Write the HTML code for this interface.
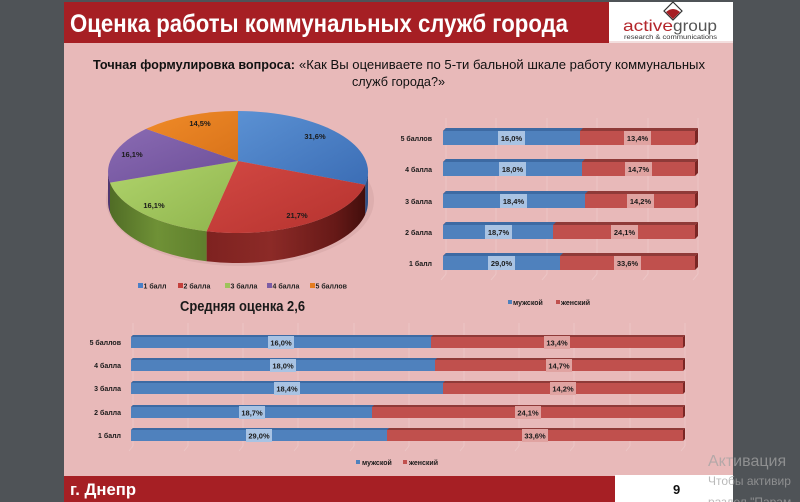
<!DOCTYPE html>
<html><head><meta charset="utf-8"><style>
html,body{margin:0;padding:0;background:#4f5357;}
svg{display:block;}
text{font-family:"Liberation Sans",Arial,sans-serif;}
</style></head><body>
<svg width="800" height="502" viewBox="0 0 800 502" xmlns="http://www.w3.org/2000/svg">
<defs>
<linearGradient id="gBlue" x1="0" y1="0" x2="1" y2="1"><stop offset="0" stop-color="#5b91d3"/><stop offset="1" stop-color="#3b6db5"/></linearGradient>
<linearGradient id="gRed" x1="0" y1="0" x2="1" y2="1"><stop offset="0" stop-color="#d24843"/><stop offset="1" stop-color="#b5322e"/></linearGradient>
<linearGradient id="gGreen" x1="0" y1="0" x2="1" y2="1"><stop offset="0" stop-color="#b0d46c"/><stop offset="1" stop-color="#8fb44d"/></linearGradient>
<linearGradient id="gPurple" x1="0" y1="0" x2="1" y2="1"><stop offset="0" stop-color="#8a6bb3"/><stop offset="1" stop-color="#6c4e98"/></linearGradient>
<linearGradient id="gOrange" x1="0" y1="0" x2="1" y2="1"><stop offset="0" stop-color="#f08b28"/><stop offset="1" stop-color="#d9731a"/></linearGradient>
<linearGradient id="sRed" gradientUnits="userSpaceOnUse" x1="206" y1="0" x2="368" y2="0"><stop offset="0" stop-color="#7e2220"/><stop offset="0.4" stop-color="#8c2a27"/><stop offset="0.8" stop-color="#661917"/><stop offset="1" stop-color="#3f0d0b"/></linearGradient>
<linearGradient id="sGreen" gradientUnits="userSpaceOnUse" x1="108" y1="0" x2="207" y2="0"><stop offset="0" stop-color="#4f6b25"/><stop offset="0.5" stop-color="#6f9136"/><stop offset="1" stop-color="#5f7f2d"/></linearGradient>
</defs>

<rect x="64" y="2" width="669" height="500" fill="#e8b9b9"/>

<rect x="64" y="2" width="545" height="41" fill="#a61f24"/>
<text x="70" y="32" font-size="25" font-weight="bold" fill="#ffffff" textLength="498" lengthAdjust="spacingAndGlyphs">Оценка работы коммунальных служб города</text>

<rect x="609" y="2" width="124" height="39" fill="#ffffff"/>
<rect x="609" y="41" width="124" height="2" fill="#f3dede"/>
<polygon points="673,2 682,11 673,20 664,11" fill="#ffffff" stroke="#333" stroke-width="1.2"/>
<path d="M666,12 Q673,6 680,12 L673,19 Z" fill="#a61f24"/>
<text x="623" y="31" font-size="16" fill="#b3262b" textLength="50" lengthAdjust="spacingAndGlyphs">active</text>
<text x="673" y="31" font-size="16" fill="#555555" textLength="44" lengthAdjust="spacingAndGlyphs">group</text>
<text x="624" y="39" font-size="6" fill="#333" textLength="93" lengthAdjust="spacingAndGlyphs">research &amp; communications</text>

<text x="93" y="69" font-size="12.5" fill="#111" font-weight="bold" textLength="202" lengthAdjust="spacingAndGlyphs">Точная формулировка вопроса:</text>
<text x="299" y="69" font-size="12.5" fill="#111" textLength="406" lengthAdjust="spacingAndGlyphs">«Как Вы оцениваете по 5-ти бальной шкале работу коммунальных</text>
<text x="352" y="86" font-size="12.5" fill="#111" textLength="93" lengthAdjust="spacingAndGlyphs">служб города?»</text>

<ellipse cx="240" cy="200" rx="134" ry="66" fill="#c99a9a" opacity="0.35"/>
<path d="M368,172 A130,61 0 0,1 365.2,184.7 L365.2,214.7 A130,61 0 0,0 368,202 Z" fill="#2d4f86"/>
<path d="M365.2,184.7 A130,61 0 0,1 206.6,231.2 L206.6,261.2 A130,61 0 0,0 365.2,214.7 Z" fill="url(#sRed)"/>
<path d="M206.6,231.2 A130,61 0 0,1 110,182.6 L110,212.6 A130,61 0 0,0 206.6,261.2 Z" fill="url(#sGreen)"/>
<path d="M110,182.6 A130,61 0 0,1 108,172 L108,202 A130,61 0 0,0 110,212.6 Z" fill="#4f3670"/>
<path d="M238,161 L238,111 A130,61 0 0,1 365.2,184.7 Z" fill="url(#gBlue)"/>
<path d="M238,161 L365.2,184.7 A130,61 0 0,1 206.6,231.2 Z" fill="url(#gRed)"/>
<path d="M238,161 L206.6,231.2 A130,61 0 0,1 110,182.6 Z" fill="url(#gGreen)"/>
<path d="M238,161 L110,182.6 A130,61 0 0,1 146.1,128.9 Z" fill="url(#gPurple)"/>
<path d="M238,161 L146.1,128.9 A130,61 0 0,1 238,111 Z" fill="url(#gOrange)"/>
<g font-size="7.5" font-weight="bold" fill="#1a1a1a" text-anchor="middle">
<text x="315" y="139">31,6%</text>
<text x="297" y="218">21,7%</text>
<text x="154" y="208">16,1%</text>
<text x="132" y="157">16,1%</text>
<text x="200" y="126">14,5%</text>
</g>
<g font-size="7" font-weight="bold" fill="#222">
<rect x="138" y="283" width="5" height="5" fill="#4a7fc6"/><text x="143.5" y="288.5">1 балл</text>
<rect x="178" y="283" width="5" height="5" fill="#c4403c"/><text x="183.5" y="288.5">2 балла</text>
<rect x="225" y="283" width="5" height="5" fill="#9dc35a"/><text x="230.5" y="288.5">3 балла</text>
<rect x="267" y="283" width="5" height="5" fill="#7b5ca5"/><text x="272.5" y="288.5">4 балла</text>
<rect x="310" y="283" width="5" height="5" fill="#e47b1f"/><text x="315.5" y="288.5">5 баллов</text>
</g>
<text x="180" y="311" font-size="14.5" font-weight="bold" fill="#1a1a1a" textLength="125" lengthAdjust="spacingAndGlyphs">Средняя оценка 2,6</text>

<g stroke="#ffffff" stroke-opacity="0.18" stroke-width="1">
<line x1="446" y1="118" x2="446" y2="274"/><line x1="496" y1="118" x2="496" y2="274"/><line x1="547" y1="118" x2="547" y2="274"/><line x1="597" y1="118" x2="597" y2="274"/><line x1="648" y1="118" x2="648" y2="274"/><line x1="698" y1="118" x2="698" y2="274"/>
<line x1="446" y1="274" x2="441" y2="280"/><line x1="496" y1="274" x2="491" y2="280"/><line x1="547" y1="274" x2="542" y2="280"/><line x1="597" y1="274" x2="592" y2="280"/><line x1="648" y1="274" x2="643" y2="280"/><line x1="698" y1="274" x2="693" y2="280"/>
</g>
<g>
<polygon points="443,131 446,128 698,128 695,131" fill="#8f3a38"/>
<polygon points="443,131 446,128 583,128 580,131" fill="#3d6aa3"/>
<polygon points="695,131 698,128 698,142 695,145" fill="#7a2624"/>
<rect x="443" y="131" width="137" height="14" fill="#4f81bd"/><rect x="580" y="131" width="115" height="14" fill="#c0504d"/>
<polygon points="443,162 446,159 698,159 695,162" fill="#8f3a38"/>
<polygon points="443,162 446,159 585,159 582,162" fill="#3d6aa3"/>
<polygon points="695,162 698,159 698,173 695,176" fill="#7a2624"/>
<rect x="443" y="162" width="139" height="14" fill="#4f81bd"/><rect x="582" y="162" width="113" height="14" fill="#c0504d"/>
<polygon points="443,194 446,191 698,191 695,194" fill="#8f3a38"/>
<polygon points="443,194 446,191 588,191 585,194" fill="#3d6aa3"/>
<polygon points="695,194 698,191 698,205 695,208" fill="#7a2624"/>
<rect x="443" y="194" width="142" height="14" fill="#4f81bd"/><rect x="585" y="194" width="110" height="14" fill="#c0504d"/>
<polygon points="443,225 446,222 698,222 695,225" fill="#8f3a38"/>
<polygon points="443,225 446,222 556,222 553,225" fill="#3d6aa3"/>
<polygon points="695,225 698,222 698,236 695,239" fill="#7a2624"/>
<rect x="443" y="225" width="110" height="14" fill="#4f81bd"/><rect x="553" y="225" width="142" height="14" fill="#c0504d"/>
<polygon points="443,256 446,253 698,253 695,256" fill="#8f3a38"/>
<polygon points="443,256 446,253 563,253 560,256" fill="#3d6aa3"/>
<polygon points="695,256 698,253 698,267 695,270" fill="#7a2624"/>
<rect x="443" y="256" width="117" height="14" fill="#4f81bd"/><rect x="560" y="256" width="135" height="14" fill="#c0504d"/>
</g>
<g fill="#a9c3e3">
<rect x="498" y="131" width="27" height="14"/><rect x="499" y="162" width="27" height="14"/><rect x="500" y="194" width="27" height="14"/><rect x="485" y="225" width="27" height="14"/><rect x="488" y="256" width="27" height="14"/>
</g>
<g fill="#e0a3a1">
<rect x="624" y="131" width="27" height="14"/><rect x="625" y="162" width="27" height="14"/><rect x="627" y="194" width="27" height="14"/><rect x="611" y="225" width="27" height="14"/><rect x="614" y="256" width="27" height="14"/>
</g>
<g font-size="7.5" font-weight="bold" fill="#1a1a1a" text-anchor="middle">
<text x="511.5" y="141">16,0%</text><text x="637.5" y="141">13,4%</text>
<text x="512.5" y="172">18,0%</text><text x="638.5" y="172">14,7%</text>
<text x="513.5" y="204">18,4%</text><text x="640.5" y="204">14,2%</text>
<text x="498.5" y="235">18,7%</text><text x="624.5" y="235">24,1%</text>
<text x="501.5" y="266">29,0%</text><text x="627.5" y="266">33,6%</text>
</g>
<g font-size="7" font-weight="bold" fill="#1a1a1a" text-anchor="end">
<text x="432" y="141">5 баллов</text>
<text x="432" y="172">4 балла</text>
<text x="432" y="204">3 балла</text>
<text x="432" y="235">2 балла</text>
<text x="432" y="266">1 балл</text>
</g>
<g font-size="7" font-weight="bold" fill="#1a1a1a">
<rect x="508" y="300" width="4" height="4" fill="#4f81bd"/><text x="513" y="305">мужской</text>
<rect x="556" y="300" width="4" height="4" fill="#c0504d"/><text x="561" y="305">женский</text>
</g>

<g stroke="#ffffff" stroke-opacity="0.18" stroke-width="1">
<line x1="133" y1="323" x2="133" y2="446"/><line x1="188" y1="323" x2="188" y2="446"/><line x1="243" y1="323" x2="243" y2="446"/><line x1="298" y1="323" x2="298" y2="446"/><line x1="354" y1="323" x2="354" y2="446"/><line x1="409" y1="323" x2="409" y2="446"/><line x1="464" y1="323" x2="464" y2="446"/><line x1="519" y1="323" x2="519" y2="446"/><line x1="574" y1="323" x2="574" y2="446"/><line x1="630" y1="323" x2="630" y2="446"/><line x1="685" y1="323" x2="685" y2="446"/>
<line x1="133" y1="446" x2="129" y2="451"/><line x1="188" y1="446" x2="184" y2="451"/><line x1="243" y1="446" x2="239" y2="451"/><line x1="298" y1="446" x2="294" y2="451"/><line x1="354" y1="446" x2="350" y2="451"/><line x1="409" y1="446" x2="405" y2="451"/><line x1="464" y1="446" x2="460" y2="451"/><line x1="519" y1="446" x2="515" y2="451"/><line x1="574" y1="446" x2="570" y2="451"/><line x1="630" y1="446" x2="626" y2="451"/><line x1="685" y1="446" x2="681" y2="451"/>
</g>
<g>
<polygon points="131,337 133,335 685,335 683,337" fill="#8f3a38"/><polygon points="131,337 133,335 433,335 431,337" fill="#3d6aa3"/><polygon points="683,337 685,335 685,346 683,348" fill="#7a2624"/>
<rect x="131" y="337" width="300" height="11" fill="#4f81bd"/><rect x="431" y="337" width="252" height="11" fill="#c0504d"/>
<polygon points="131,360 133,358 685,358 683,360" fill="#8f3a38"/><polygon points="131,360 133,358 437,358 435,360" fill="#3d6aa3"/><polygon points="683,360 685,358 685,369 683,371" fill="#7a2624"/>
<rect x="131" y="360" width="304" height="11" fill="#4f81bd"/><rect x="435" y="360" width="248" height="11" fill="#c0504d"/>
<polygon points="131,383 133,381 685,381 683,383" fill="#8f3a38"/><polygon points="131,383 133,381 445,381 443,383" fill="#3d6aa3"/><polygon points="683,383 685,381 685,392 683,394" fill="#7a2624"/>
<rect x="131" y="383" width="312" height="11" fill="#4f81bd"/><rect x="443" y="383" width="240" height="11" fill="#c0504d"/>
<polygon points="131,407 133,405 685,405 683,407" fill="#8f3a38"/><polygon points="131,407 133,405 374,405 372,407" fill="#3d6aa3"/><polygon points="683,407 685,405 685,416 683,418" fill="#7a2624"/>
<rect x="131" y="407" width="241" height="11" fill="#4f81bd"/><rect x="372" y="407" width="311" height="11" fill="#c0504d"/>
<polygon points="131,430 133,428 685,428 683,430" fill="#8f3a38"/><polygon points="131,430 133,428 389,428 387,430" fill="#3d6aa3"/><polygon points="683,430 685,428 685,439 683,441" fill="#7a2624"/>
<rect x="131" y="430" width="256" height="11" fill="#4f81bd"/><rect x="387" y="430" width="296" height="11" fill="#c0504d"/>
</g>
<g fill="#a9c3e3">
<rect x="268" y="336" width="26" height="13"/><rect x="270" y="359" width="26" height="13"/><rect x="274" y="382" width="26" height="13"/><rect x="239" y="406" width="26" height="13"/><rect x="246" y="429" width="26" height="13"/>
</g>
<g fill="#e0a3a1">
<rect x="544" y="336" width="26" height="13"/><rect x="546" y="359" width="26" height="13"/><rect x="550" y="382" width="26" height="13"/><rect x="515" y="406" width="26" height="13"/><rect x="522" y="429" width="26" height="13"/>
</g>
<g font-size="7.5" font-weight="bold" fill="#1a1a1a" text-anchor="middle">
<text x="281" y="345.5">16,0%</text><text x="557" y="345.5">13,4%</text>
<text x="283" y="368.5">18,0%</text><text x="559" y="368.5">14,7%</text>
<text x="287" y="391.5">18,4%</text><text x="563" y="391.5">14,2%</text>
<text x="252" y="415.5">18,7%</text><text x="528" y="415.5">24,1%</text>
<text x="259" y="438.5">29,0%</text><text x="535" y="438.5">33,6%</text>
</g>
<g font-size="7" font-weight="bold" fill="#1a1a1a" text-anchor="end">
<text x="121" y="345">5 баллов</text>
<text x="121" y="368">4 балла</text>
<text x="121" y="391">3 балла</text>
<text x="121" y="415">2 балла</text>
<text x="121" y="438">1 балл</text>
</g>
<g font-size="7" font-weight="bold" fill="#1a1a1a">
<rect x="356" y="460" width="4" height="4" fill="#4f81bd"/><text x="362" y="465">мужской</text>
<rect x="403" y="460" width="4" height="4" fill="#c0504d"/><text x="409" y="465">женский</text>
</g>

<rect x="64" y="476" width="551" height="26" fill="#a61f24"/>
<rect x="615" y="475" width="118" height="27" fill="#ffffff"/>
<text x="70" y="495" font-size="17" font-weight="bold" fill="#ffffff" textLength="66" lengthAdjust="spacingAndGlyphs">г. Днепр</text>
<text x="673" y="494" font-size="13" font-weight="bold" fill="#111">9</text>

<g fill="#a3a3a3" fill-opacity="0.75" font-family="'DejaVu Sans','Liberation Sans',sans-serif">
<text x="708" y="466" font-size="16">Активация</text>
<text x="708" y="485" font-size="12">Чтобы активир</text>
<text x="708" y="506" font-size="12">раздел "Парам</text>
</g>
</svg>
</body></html>
